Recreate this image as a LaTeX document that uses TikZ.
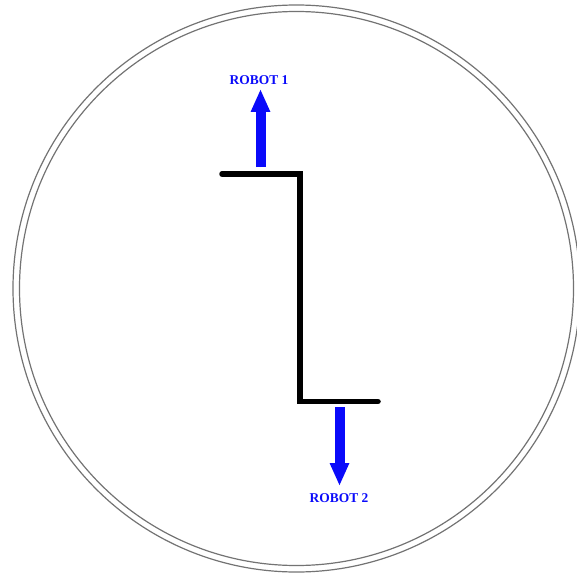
\documentclass[tikz,border=0pt]{standalone}
\usepackage{fontspec}
\setmainfont{Liberation Serif}
\usetikzlibrary{arrows.meta}
\definecolor{robotblue}{RGB}{10,10,250}
\tikzset{
  ring/.style={draw=black!55, line width=1.2bp},
  wall/.style={draw=black, line width=5.5bp, line cap=round, line join=miter},
  robotarrow/.style={draw=robotblue, line width=10bp, -{Triangle[width=18bp,length=23bp]}, fill=robotblue},
  robotlabel/.style={text=robotblue, font=\bfseries\fontsize{13.5}{14}\selectfont, inner sep=0pt}
}
\begin{document}
\begin{tikzpicture}[x=1bp,y=-1bp]
\useasboundingbox (0,0) rectangle (577,577);
\clip (0,0) rectangle (577,577);
\coordinate (c) at (296.5,288.5);
\draw[ring] (c) circle[radius=283.5];
\draw[ring] (c) circle[radius=277];
\coordinate (w1) at (222,174);
\coordinate (w2) at (300,174);
\coordinate (w3) at (300,401.5);
\coordinate (w4) at (378,401.5);
\draw[wall] (w1) -- (w2) -- (w3) -- (w4);
\coordinate (a1s) at (260.5,167);
\coordinate (a1e) at (260.5,89);
\coordinate (a2s) at (339.5,407);
\coordinate (a2e) at (339.5,486);
\draw[robotarrow] (a1s) -- (a1e);
\draw[robotarrow] (a2s) -- (a2e);
\node[robotlabel] (r1) at (259,80.5) {ROBOT 1};
\node[robotlabel] (r2) at (339,498.5) {ROBOT 2};
\end{tikzpicture}
\end{document}
